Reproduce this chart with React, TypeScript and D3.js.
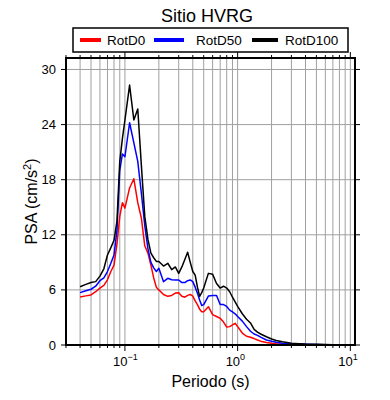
import * as d3 from "d3";

// Periodo (s)
const periods = [
  0.04, 0.045, 0.05, 0.055, 0.06, 0.065, 0.07, 0.075, 0.08, 0.085, 0.09, 0.095,
  0.1, 0.11, 0.12, 0.13, 0.14, 0.15, 0.16, 0.17, 0.18, 0.19, 0.2, 0.22, 0.24,
  0.26, 0.28, 0.3, 0.32, 0.34, 0.36, 0.38, 0.4, 0.42, 0.44, 0.46, 0.48, 0.5,
  0.55, 0.6, 0.65, 0.7, 0.75, 0.8, 0.85, 0.9, 0.95, 1.0, 1.1, 1.2, 1.3, 1.4,
  1.5, 1.6, 1.8, 2.0, 2.2, 2.5, 3.0, 3.5, 4.0, 5.0, 6.0, 7.0, 8.0, 9.0, 10.0,
];

// PSA (cm/s2)
const rotD0 = [
  5.23, 5.35, 5.45, 5.8, 6.2, 6.5, 7.1, 8.0, 8.7, 11.0, 14.0, 15.5,
  14.9, 17.1, 18.1, 15.5, 13.8, 10.8, 10.0, 8.7, 7.3, 6.3, 6.0, 5.5, 5.3,
  5.4, 5.65, 5.7, 5.3, 5.2, 5.4, 5.5, 5.33, 4.8, 4.4, 3.9, 3.63, 3.63,
  4.17, 3.3, 3.1, 2.9, 2.5, 1.95, 2.0, 2.2, 2.36, 2.0, 1.3, 0.95, 0.85, 0.7,
  0.55, 0.42, 0.28, 0.18, 0.13, 0.09, 0.05, 0.04, 0.03, 0.02, 0.02, 0.01, 0.01, 0.01, 0.01,
];

const rotD50 = [
  5.7, 5.9, 6.07, 6.4, 7.0, 7.3, 8.0, 8.9, 9.8, 12.5, 19.0, 20.8,
  20.5, 24.2, 22.0, 20.0, 16.5, 13.0, 10.5, 9.0, 8.4, 8.0, 8.35, 6.9, 7.26,
  7.1, 7.08, 7.08, 6.8, 6.8, 7.0, 7.08, 6.9, 6.3, 5.63, 4.9, 4.3, 4.4,
  5.33, 5.4, 5.4, 4.4, 4.4, 4.2, 3.8, 3.6, 3.4, 3.1, 2.6, 2.0, 1.5, 1.2,
  1.05, 0.85, 0.54, 0.4, 0.29, 0.2, 0.12, 0.08, 0.07, 0.05, 0.04, 0.03, 0.02, 0.02, 0.01,
];

const rotD100 = [
  6.35, 6.6, 6.8, 6.9, 7.5, 8.3, 9.8, 10.6, 11.4, 13.5, 20.0, 22.5,
  24.5, 28.3, 24.5, 25.7, 19.5, 14.0, 11.5, 10.0, 9.5, 9.1, 9.1, 8.6, 8.9,
  8.2, 8.5, 7.8, 8.5, 9.3, 10.1, 9.0, 8.0, 7.6, 6.3, 5.3, 5.7, 6.2,
  7.8, 7.7, 6.7, 6.2, 6.4, 6.2, 5.8, 5.2, 4.7, 4.2, 3.4, 2.8, 2.4, 1.7,
  1.4, 1.2, 0.9, 0.65, 0.5, 0.35, 0.2, 0.14, 0.1, 0.07, 0.05, 0.03, 0.03, 0.02, 0.02,
];

const seriesNames = ["RotD0", "RotD50", "RotD100"];
const seriesColors = ["#ff0000", "#0000ff", "#000000"];
const yTicks = [0, 6, 12, 18, 24, 30];
const xMajor = [0.1, 1, 10];
const xExp = ["\u22121", "0", "1"];

const W = 390;
const H = 400;
const m = { left: 66, right: 355, top: 58, bottom: 345 };
const font = "'Liberation Sans', Arial, Helvetica, sans-serif";

// legend layout: line start/end and label x for each entry
const legendLines = [
  [80, 101, 107],
  [154, 184, 196],
  [252, 278, 285],
];

export default function App() {
  const x = d3.scaleLog().domain([0.03, 11]).range([m.left, m.right]);
  const y = d3.scaleLinear().domain([0, 31.25]).range([m.bottom, m.top]);
  const xGrid = x.ticks().filter((t) => t >= 0.03 && t <= 11);
  const isMajor = (t: number) => xMajor.some((v) => Math.abs(v - t) < 1e-9);

  const data = [rotD0, rotD50, rotD100];
  const line = d3
    .line<number>()
    .x((_, i) => x(periods[i]))
    .y((d) => y(d));

  return (
    <svg
      width={W}
      height={H}
      style={{ position: "absolute", left: 0, top: 0, background: "#fff" }}
      fontFamily={font}
    >
      {/* grid */}
      <g stroke="#a0a0a0" strokeWidth={1}>
        {xGrid.map((t) => (
          <line key={"gx" + t} x1={x(t)} x2={x(t)} y1={m.top} y2={m.bottom} />
        ))}
        {yTicks.map((t) => (
          <line key={"gy" + t} x1={m.left} x2={m.right} y1={y(t)} y2={y(t)} />
        ))}
      </g>

      {/* curves */}
      <g fill="none" strokeWidth={1.5} strokeLinejoin="round">
        {data.map((d, i) => (
          <path key={seriesNames[i]} d={line(d) || ""} stroke={seriesColors[i]} />
        ))}
      </g>

      {/* frame + ticks */}
      <g stroke="#000">
        {xGrid.map((t) => {
          const len = isMajor(t) ? 6 : 3;
          return (
            <g key={"tx" + t} strokeWidth={1}>
              <line x1={x(t)} x2={x(t)} y1={m.bottom} y2={m.bottom + len} />
              <line x1={x(t)} x2={x(t)} y1={m.top} y2={m.top - len} />
            </g>
          );
        })}
        {yTicks.map((t) => (
          <g key={"ty" + t} strokeWidth={1}>
            <line x1={m.left - 5} x2={m.left} y1={y(t)} y2={y(t)} />
            <line x1={m.right} x2={m.right + 5} y1={y(t)} y2={y(t)} />
          </g>
        ))}
        <rect
          x={m.left}
          y={m.top}
          width={m.right - m.left}
          height={m.bottom - m.top}
          fill="none"
          strokeWidth={2}
        />
      </g>

      {/* y tick labels */}
      <g fontSize={13} textAnchor="end" fill="#000">
        {yTicks.map((t) => (
          <text key={"ly" + t} x={m.left - 10} y={y(t) + 4.5}>
            {t}
          </text>
        ))}
      </g>

      {/* x tick labels */}
      <g fontSize={13} fill="#000">
        {xMajor.map((t, i) => (
          <text key={"lx" + t} x={x(t) - 12} y={366}>
            10
            <tspan fontSize={9} dy={-6}>
              {xExp[i]}
            </tspan>
          </text>
        ))}
      </g>

      {/* axis titles */}
      <text x={(m.left + m.right) / 2} y={387} fontSize={16} textAnchor="middle">
        Periodo (s)
      </text>
      <text
        transform={`translate(37, ${(m.top + m.bottom) / 2}) rotate(-90)`}
        fontSize={16}
        textAnchor="middle"
      >
        PSA (cm/s
        <tspan fontSize={11} dy={-6}>
          2
        </tspan>
        <tspan dy={6}>)</tspan>
      </text>

      {/* title */}
      <text x={207} y={22} fontSize={18} textAnchor="middle">
        Sitio HVRG
      </text>

      {/* legend */}
      <rect x={73} y={28} width={275} height={24} fill="#fff" stroke="#000" strokeWidth={1.5} />
      {seriesNames.map((n, i) => {
        const [a, b, tx] = legendLines[i];
        return (
          <g key={"lg" + n}>
            <line x1={a} x2={b} y1={40} y2={40} stroke={seriesColors[i]} strokeWidth={4} />
            <text x={tx} y={45} fontSize={13.5}>
              {n}
            </text>
          </g>
        );
      })}
    </svg>
  );
}
